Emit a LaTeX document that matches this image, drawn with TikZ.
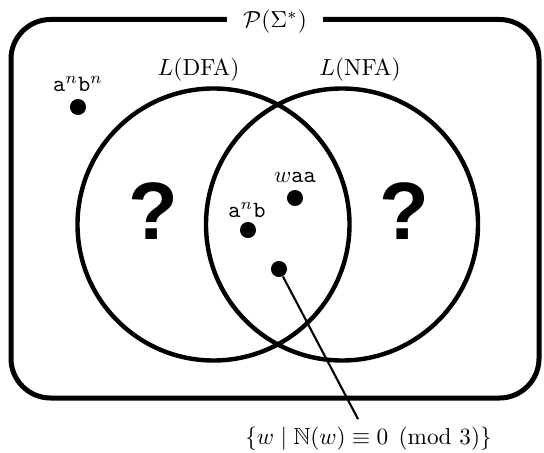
\documentclass[tikz,border=0pt]{standalone}
\usepackage{amsmath, amssymb}
\usepackage{fontspec}
\usepackage{tikz}
\usetikzlibrary{positioning, calc}
\newfontfamily\qmarkfont{Liberation Sans}

\begin{document}
\begin{tikzpicture}[x=0.43pt, y=0.43pt, font=\normalsize,
    elem/.style={circle, fill=black, inner sep=0pt, minimum size=6.9pt},
    qmark/.style={font=\qmarkfont\bfseries\fontsize{35}{40}\selectfont},
    setline/.style={line width=1.9pt}]
  \useasboundingbox (0,0) rectangle (544,452);
  % universe of all languages
  \draw[line width=2.15pt, rounded corners=17pt] (11,54) rectangle (539,432.5);
  \node[fill=white, inner xsep=7pt] (univ) at (275,430) {$\mathcal{P}(\Sigma^*)$};
  % the two classes
  \draw[setline] (213.5,227.5) circle (136);
  \draw[setline] (342,227.5) circle (136);
  \node (dfa) at (198.5,382) {$L(\text{DFA})$};
  \node (nfa) at (360,382) {$L(\text{NFA})$};
  \node[qmark] (qleft) at (153,241) {?};
  \node[qmark] (qright) at (404,241) {?};
  % sample languages
  \node[elem] (anbn) at (78,345) {};
  \node (anbnlbl) at (78,368) {\texttt{a}$^n$\texttt{b}$^n$};
  \node[elem] (anb) at (248,222) {};
  \node (anblbl) at (247,242) {\texttt{a}$^n$\texttt{b}};
  \node[elem] (waa) at (295,254) {};
  \node (waalbl) at (295,275) {$w$\texttt{aa}};
  \node[elem] (mod) at (279,183) {};
  \node (modlbl) at (368.5,13) {$\{w \mid \mathbb{N}(w) \equiv 0 \pmod{3}\}$};
  \draw[line width=0.9pt] (mod) -- (modlbl);
\end{tikzpicture}
\end{document}
